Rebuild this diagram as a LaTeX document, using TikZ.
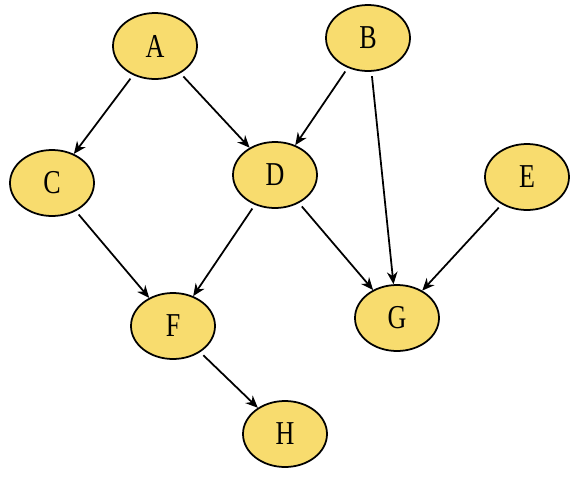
\documentclass[tikz,border=0pt]{standalone}
\usepackage{fontspec}
\setmainfont{Liberation Serif}
\newfontfamily\narrowserif[FakeStretch=0.78]{Liberation Serif}
\usetikzlibrary{shapes,arrows.meta,positioning,calc}
\definecolor{nodeyellow}{RGB}{248,220,110}

\begin{document}
\begin{tikzpicture}[line width=1pt,
  vertex/.style={draw, ellipse, fill=nodeyellow, inner sep=0pt, minimum width=1.68cm, minimum height=1.32cm, font=\narrowserif\fontsize{19}{22}\selectfont},
  edge/.style={-{Stealth[length=7pt, width=6pt]}, shorten <=2.5pt}]
\useasboundingbox (0,0) rectangle (11.72,9.8);
% 定义结点
\node[vertex] (A) at (3.1,8.88) {A};
\node[vertex] (B) at (7.36,9.04) {B};
\node[vertex] (C) at (1.04,6.14) {C};
\node[vertex] (D) at (5.5,6.3) {D};
\node[vertex] (E) at (10.54,6.26) {E};
\node[vertex] (F) at (3.46,3.28) {F};
\node[vertex] (G) at (7.94,3.44) {G};
\node[vertex] (H) at (5.7,1.12) {H};

% 连接线
\draw[edge] (A) -- (C);
\draw[edge] (A) -- (D);
\draw[edge] (B) -- (D);
\draw[edge] (B) -- (G);
\draw[edge] (C) -- (F);
\draw[edge] (D) -- (F);
\draw[edge] (D) -- (G);
\draw[edge] (E) -- (G);
\draw[edge] (F) -- (H);
\end{tikzpicture}
\end{document}
